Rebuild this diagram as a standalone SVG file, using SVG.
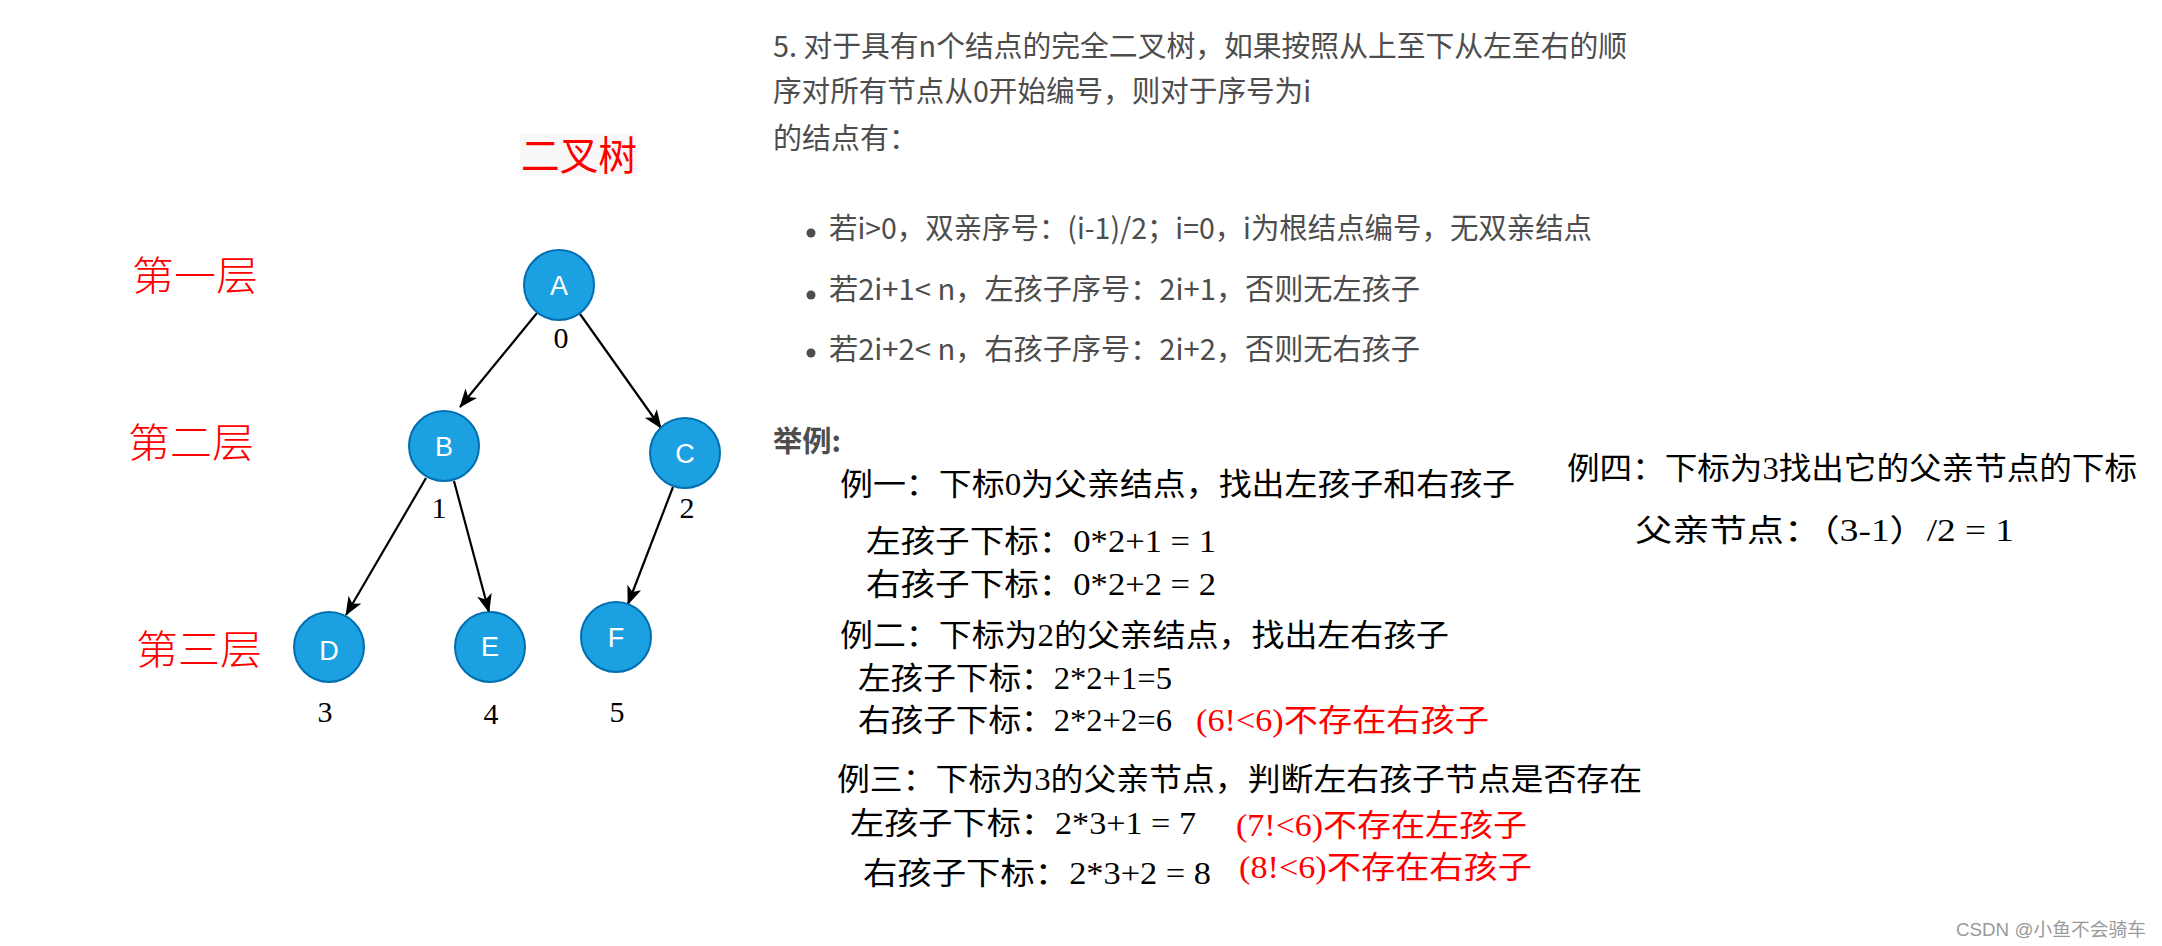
<svg xmlns="http://www.w3.org/2000/svg" width="2162" height="946" viewBox="0 0 2162 946">
<style>
.node{fill:#1ba1e2;stroke:#006eaf;stroke-width:2}
.nl{font-family:"Liberation Sans","Noto Sans",sans-serif;font-size:27px;fill:#ffffff;text-anchor:middle}
.idx{font-family:"Liberation Serif",serif;font-size:30px;fill:#000;text-anchor:middle}
.lvl{font-family:"Liberation Serif","Noto Sans CJK SC",serif;font-size:40px;font-weight:300;fill:#ff0000}
.ttl{font-family:"Noto Sans CJK SC",sans-serif;font-size:40px;fill:#ff0000}
.para{font-family:"Noto Sans CJK SC","Noto Sans",sans-serif;font-size:29px;fill:#4d4d4d}
.bold{font-weight:bold}
.ex{font-family:"Liberation Serif","Noto Sans CJK SC",serif;font-size:31px;fill:#000}
.red{fill:#ff0000}
.wm{font-family:"Liberation Sans","Noto Sans CJK SC",sans-serif;font-size:18px;fill:#9a9a9a}
.edge{stroke:#000;stroke-width:2.2;fill:none;marker-end:url(#arr)}
</style>
<defs>
<marker id="arr" viewBox="0 0 10 8" refX="9.5" refY="4" markerWidth="19" markerHeight="15" markerUnits="userSpaceOnUse" orient="auto">
<path d="M0,0 L10,4 L0,8 L2.6,4 z" fill="#000"/>
</marker>
</defs>
<rect width="2162" height="946" fill="#ffffff"/>

<g id="title">
<rect x="520" y="133" width="117" height="43" fill="#f8f8f8"/>
<text class="ttl" x="521" y="170" textLength="116" lengthAdjust="spacingAndGlyphs">二叉树</text>
</g>
<g id="levels">
<text class="lvl" x="132" y="290" textLength="126" lengthAdjust="spacingAndGlyphs">第一层</text>
<text class="lvl" x="128" y="457" textLength="126" lengthAdjust="spacingAndGlyphs">第二层</text>
<text class="lvl" x="136" y="664" textLength="126" lengthAdjust="spacingAndGlyphs">第三层</text>
</g>

<g id="connectors">
<line class="edge" x1="537" y1="313" x2="460" y2="407"/>
<line class="edge" x1="580" y1="314" x2="661" y2="428"/>
<line class="edge" x1="426" y1="478" x2="346" y2="615"/>
<line class="edge" x1="454" y1="481" x2="489" y2="612"/>
<line class="edge" x1="673" y1="487" x2="628" y2="604"/>
</g>

<g id="node-A"><ellipse class="node" cx="559" cy="285" rx="35" ry="35"/><text class="nl" x="559" y="295">A</text></g>
<g id="node-B"><ellipse class="node" cx="444" cy="446" rx="35" ry="35"/><text class="nl" x="444" y="456">B</text></g>
<g id="node-C"><ellipse class="node" cx="685" cy="453" rx="35" ry="35"/><text class="nl" x="685" y="463">C</text></g>
<g id="node-D"><ellipse class="node" cx="329" cy="647" rx="35" ry="35"/><text class="nl" x="329" y="660">D</text></g>
<g id="node-E"><ellipse class="node" cx="490" cy="647" rx="35" ry="35"/><text class="nl" x="490" y="656">E</text></g>
<g id="node-F"><ellipse class="node" cx="616" cy="637" rx="35" ry="35"/><text class="nl" x="616" y="647">F</text></g>

<g id="indices">
<text class="idx" x="561" y="348">0</text>
<text class="idx" x="439" y="518">1</text>
<text class="idx" x="687" y="518">2</text>
<text class="idx" x="325" y="722">3</text>
<text class="idx" x="491" y="724">4</text>
<text class="idx" x="617" y="722">5</text>
</g>

<g id="description">
<text class="para" x="773" y="57" textLength="854" lengthAdjust="spacingAndGlyphs">5. 对于具有n个结点的完全二叉树，如果按照从上至下从左至右的顺</text>
<text class="para" x="773" y="102" textLength="538" lengthAdjust="spacingAndGlyphs">序对所有节点从0开始编号，则对于序号为i</text>
<text class="para" x="773" y="149">的结点有：</text>
<circle cx="811" cy="233" r="4.5" fill="#4d4d4d"/>
<text class="para" x="829" y="239" textLength="763" lengthAdjust="spacingAndGlyphs">若i&gt;0，双亲序号：(i-1)/2；i=0，i为根结点编号，无双亲结点</text>
<circle cx="811" cy="295" r="4.5" fill="#4d4d4d"/>
<text class="para" x="829" y="300" textLength="591" lengthAdjust="spacingAndGlyphs">若2i+1&lt; n，左孩子序号：2i+1，否则无左孩子</text>
<circle cx="811" cy="353" r="4.5" fill="#4d4d4d"/>
<text class="para" x="829" y="360" textLength="591" lengthAdjust="spacingAndGlyphs">若2i+2&lt; n，右孩子序号：2i+2，否则无右孩子</text>
<text class="para bold" x="773" y="452" textLength="68" lengthAdjust="spacingAndGlyphs">举例:</text>
</g>

<g id="example-1">
<text class="ex" x="840" y="495" textLength="675" lengthAdjust="spacingAndGlyphs">例一：下标0为父亲结点，找出左孩子和右孩子</text>
<text class="ex" x="866" y="552" textLength="350" lengthAdjust="spacingAndGlyphs">左孩子下标：0*2+1 = 1</text>
<text class="ex" x="866" y="595" textLength="350" lengthAdjust="spacingAndGlyphs">右孩子下标：0*2+2 = 2</text>
</g>
<g id="example-2">
<text class="ex" x="840" y="646" textLength="609" lengthAdjust="spacingAndGlyphs">例二：下标为2的父亲结点，找出左右孩子</text>
<text class="ex" x="858" y="689" textLength="314" lengthAdjust="spacingAndGlyphs">左孩子下标：2*2+1=5</text>
<text class="ex" x="858" y="731" textLength="314" lengthAdjust="spacingAndGlyphs">右孩子下标：2*2+2=6</text>
<text class="ex red" x="1196" y="731" textLength="293" lengthAdjust="spacingAndGlyphs">(6!&lt;6)不存在右孩子</text>
</g>
<g id="example-3">
<text class="ex" x="837" y="790" textLength="805" lengthAdjust="spacingAndGlyphs">例三：下标为3的父亲节点，判断左右孩子节点是否存在</text>
<text class="ex" x="850" y="834" textLength="346" lengthAdjust="spacingAndGlyphs">左孩子下标：2*3+1 = 7</text>
<text class="ex red" x="1236" y="836" textLength="291" lengthAdjust="spacingAndGlyphs">(7!&lt;6)不存在左孩子</text>
<text class="ex" x="863" y="884" textLength="348" lengthAdjust="spacingAndGlyphs">右孩子下标：2*3+2 = 8</text>
<text class="ex red" x="1239" y="878" textLength="293" lengthAdjust="spacingAndGlyphs">(8!&lt;6)不存在右孩子</text>
</g>
<g id="example-4">
<text class="ex" x="1567" y="479" textLength="570" lengthAdjust="spacingAndGlyphs">例四：下标为3找出它的父亲节点的下标</text>
<text class="ex" x="1635" y="541" textLength="379" lengthAdjust="spacingAndGlyphs">父亲节点：（3-1）/2 = 1</text>
</g>

<text class="wm" x="1956" y="936" textLength="190" lengthAdjust="spacingAndGlyphs">CSDN @小鱼不会骑车</text>
</svg>
